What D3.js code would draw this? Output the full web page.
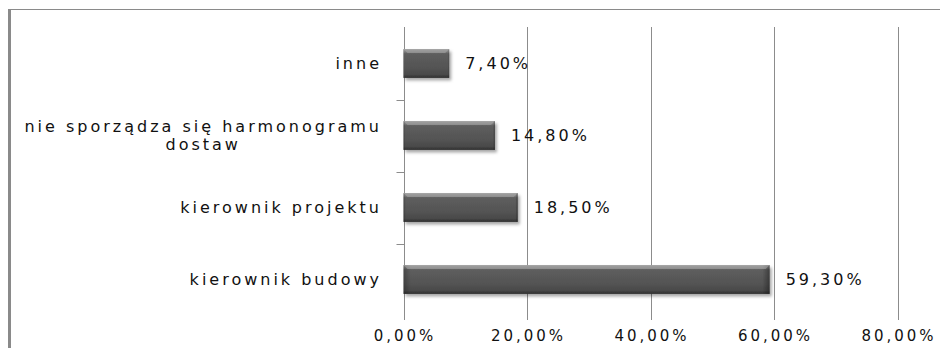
<!DOCTYPE html>
<html>
<head>
<meta charset="utf-8">
<script src="https://cdn.jsdelivr.net/npm/d3@7/dist/d3.min.js"></script>
<style>
  html, body { margin: 0; padding: 0; background: #fff; }
  svg { display: block; }
  text { font-family: "DejaVu Sans", sans-serif; fill: #111; letter-spacing: 3px; }
  .cat, .val { font-size: 16px; }
  .tick { font-size: 15px; }
</style>
</head>
<body>
<svg id="chart" width="940" height="348"></svg>
<script>
// Categories listed top to bottom, as drawn
const categories = [
  ["inne"],
  ["nie sporządza się harmonogramu", "dostaw"],
  ["kierownik projektu"],
  ["kierownik budowy"]
];
const values = [7.4, 14.8, 18.5, 59.3];
const xTicks = [0, 20, 40, 60, 80];

const fmt = v => v.toFixed(2).replace(".", ",") + "%";

const svg = d3.select("#chart");
const W = 940, H = 348;
const plot = { left: 403.5, right: 897.5, top: 27, bottom: 320 };

const keys = categories.map(c => c.join(" "));

const x = d3.scaleLinear().domain([0, 80]).range([plot.left, plot.right]);
const y = d3.scaleBand().domain(keys).range([27.5, 315.5])
  .paddingInner(0.6).paddingOuter(0.3);

// Gradients and shadow for the bars
const defs = svg.append("defs");
const grad = defs.append("linearGradient").attr("id", "barFill")
  .attr("x1", 0).attr("y1", 0).attr("x2", 0).attr("y2", 1);
[[0, "#9a9a9a"], [0.1, "#7c7c7c"], [0.16, "#5e5e5e"], [0.6, "#555555"],
 [0.88, "#4a4a4a"], [1, "#2e2e2e"]].forEach(([o, c]) =>
  grad.append("stop").attr("offset", o).attr("stop-color", c));
const side = defs.append("linearGradient").attr("id", "barSide")
  .attr("x1", 0).attr("y1", 0).attr("x2", 1).attr("y2", 0);
[[0, "#000", 0.25], [0.02, "#000", 0], [0.98, "#000", 0], [1, "#000", 0.35]].forEach(([o, c, a]) =>
  side.append("stop").attr("offset", o).attr("stop-color", c).attr("stop-opacity", a));
const shadow = defs.append("filter").attr("id", "shadow")
  .attr("x", "-10%").attr("y", "-20%").attr("width", "130%").attr("height", "160%");
shadow.append("feDropShadow").attr("dx", 2).attr("dy", 2.5)
  .attr("stdDeviation", 1.5).attr("flood-color", "#000").attr("flood-opacity", 0.35);

// Outer frame
svg.append("line").attr("x1", 8).attr("x2", W).attr("y1", 9.5).attr("y2", 9.5)
  .attr("stroke", "#8a8a8a").attr("stroke-width", 1.2);
svg.append("line").attr("x1", 9.5).attr("x2", 9.5).attr("y1", 9).attr("y2", H)
  .attr("stroke", "#8a8a8a").attr("stroke-width", 3);

// Vertical gridlines
svg.append("g").selectAll("line").data(xTicks.filter(t => t > 0)).join("line")
  .attr("x1", d => Math.round(x(d)) + 0.5).attr("x2", d => Math.round(x(d)) + 0.5)
  .attr("y1", plot.top).attr("y2", plot.bottom)
  .attr("stroke", "#8c8c8c").attr("stroke-width", 1);

// Category axis line with ticks between categories
const x0 = Math.round(x(0)) + 0.5;
svg.append("line").attr("x1", x0).attr("x2", x0)
  .attr("y1", plot.top).attr("y2", plot.bottom)
  .attr("stroke", "#8c8c8c").attr("stroke-width", 1);
svg.append("g").selectAll("line").data(keys.slice(1)).join("line")
  .attr("x1", x0 - 8).attr("x2", x0)
  .attr("y1", d => Math.round(y(d) + y.bandwidth() / 2 - y.step() / 2) + 0.5)
  .attr("y2", d => Math.round(y(d) + y.bandwidth() / 2 - y.step() / 2) + 0.5)
  .attr("stroke", "#8c8c8c").attr("stroke-width", 1);

// Bars
const bars = svg.append("g").selectAll("g").data(values).join("g");
bars.append("rect")
  .attr("x", x(0)).attr("y", (d, i) => y(keys[i]))
  .attr("width", d => x(d) - x(0)).attr("height", y.bandwidth())
  .attr("fill", "url(#barFill)").attr("filter", "url(#shadow)");
bars.append("rect")
  .attr("x", x(0)).attr("y", (d, i) => y(keys[i]))
  .attr("width", d => x(d) - x(0)).attr("height", y.bandwidth())
  .attr("fill", "url(#barSide)");
// bevelled top highlight
bars.append("path")
  .attr("d", (d, i) => {
    const x1 = x(0), x2 = x(d), y1 = y(keys[i]), b = 4;
    return `M${x1},${y1}L${x2},${y1}L${x2 - b},${y1 + b}L${x1 + b},${y1 + b}Z`;
  })
  .attr("fill", "#a8a8a8").attr("opacity", 0.55);

// Value labels
svg.append("g").selectAll("text").data(values).join("text")
  .attr("class", "val")
  .attr("x", d => x(d) + 16)
  .attr("y", (d, i) => y(keys[i]) + y.bandwidth() / 2)
  .attr("dy", "0.35em")
  .text(fmt);

// Category labels (multi-line labels are centred under their longest line)
const labelRight = 382;
const lineH = 18;
const catG = svg.append("g");
categories.forEach((lines, i) => {
  const cy = y(keys[i]) + y.bandwidth() / 2;
  const t = catG.append("text").attr("class", "cat").attr("text-anchor", "middle");
  lines.forEach((ln, j) => {
    t.append("tspan").attr("x", 0)
      .attr("y", cy + (j - (lines.length - 1) / 2) * lineH)
      .attr("dy", "0.35em").text(ln);
  });
  const w = d3.max(t.selectAll("tspan").nodes(), n => n.getComputedTextLength());
  t.selectAll("tspan").attr("x", labelRight - w / 2);
});

// Value axis tick labels
svg.append("g").selectAll("text").data(xTicks).join("text")
  .attr("class", "tick")
  .attr("x", d => x(d) + 1.5).attr("y", 336).attr("dy", "0.35em")
  .attr("text-anchor", "middle")
  .text(d => fmt(d));
</script>
</body>
</html>
